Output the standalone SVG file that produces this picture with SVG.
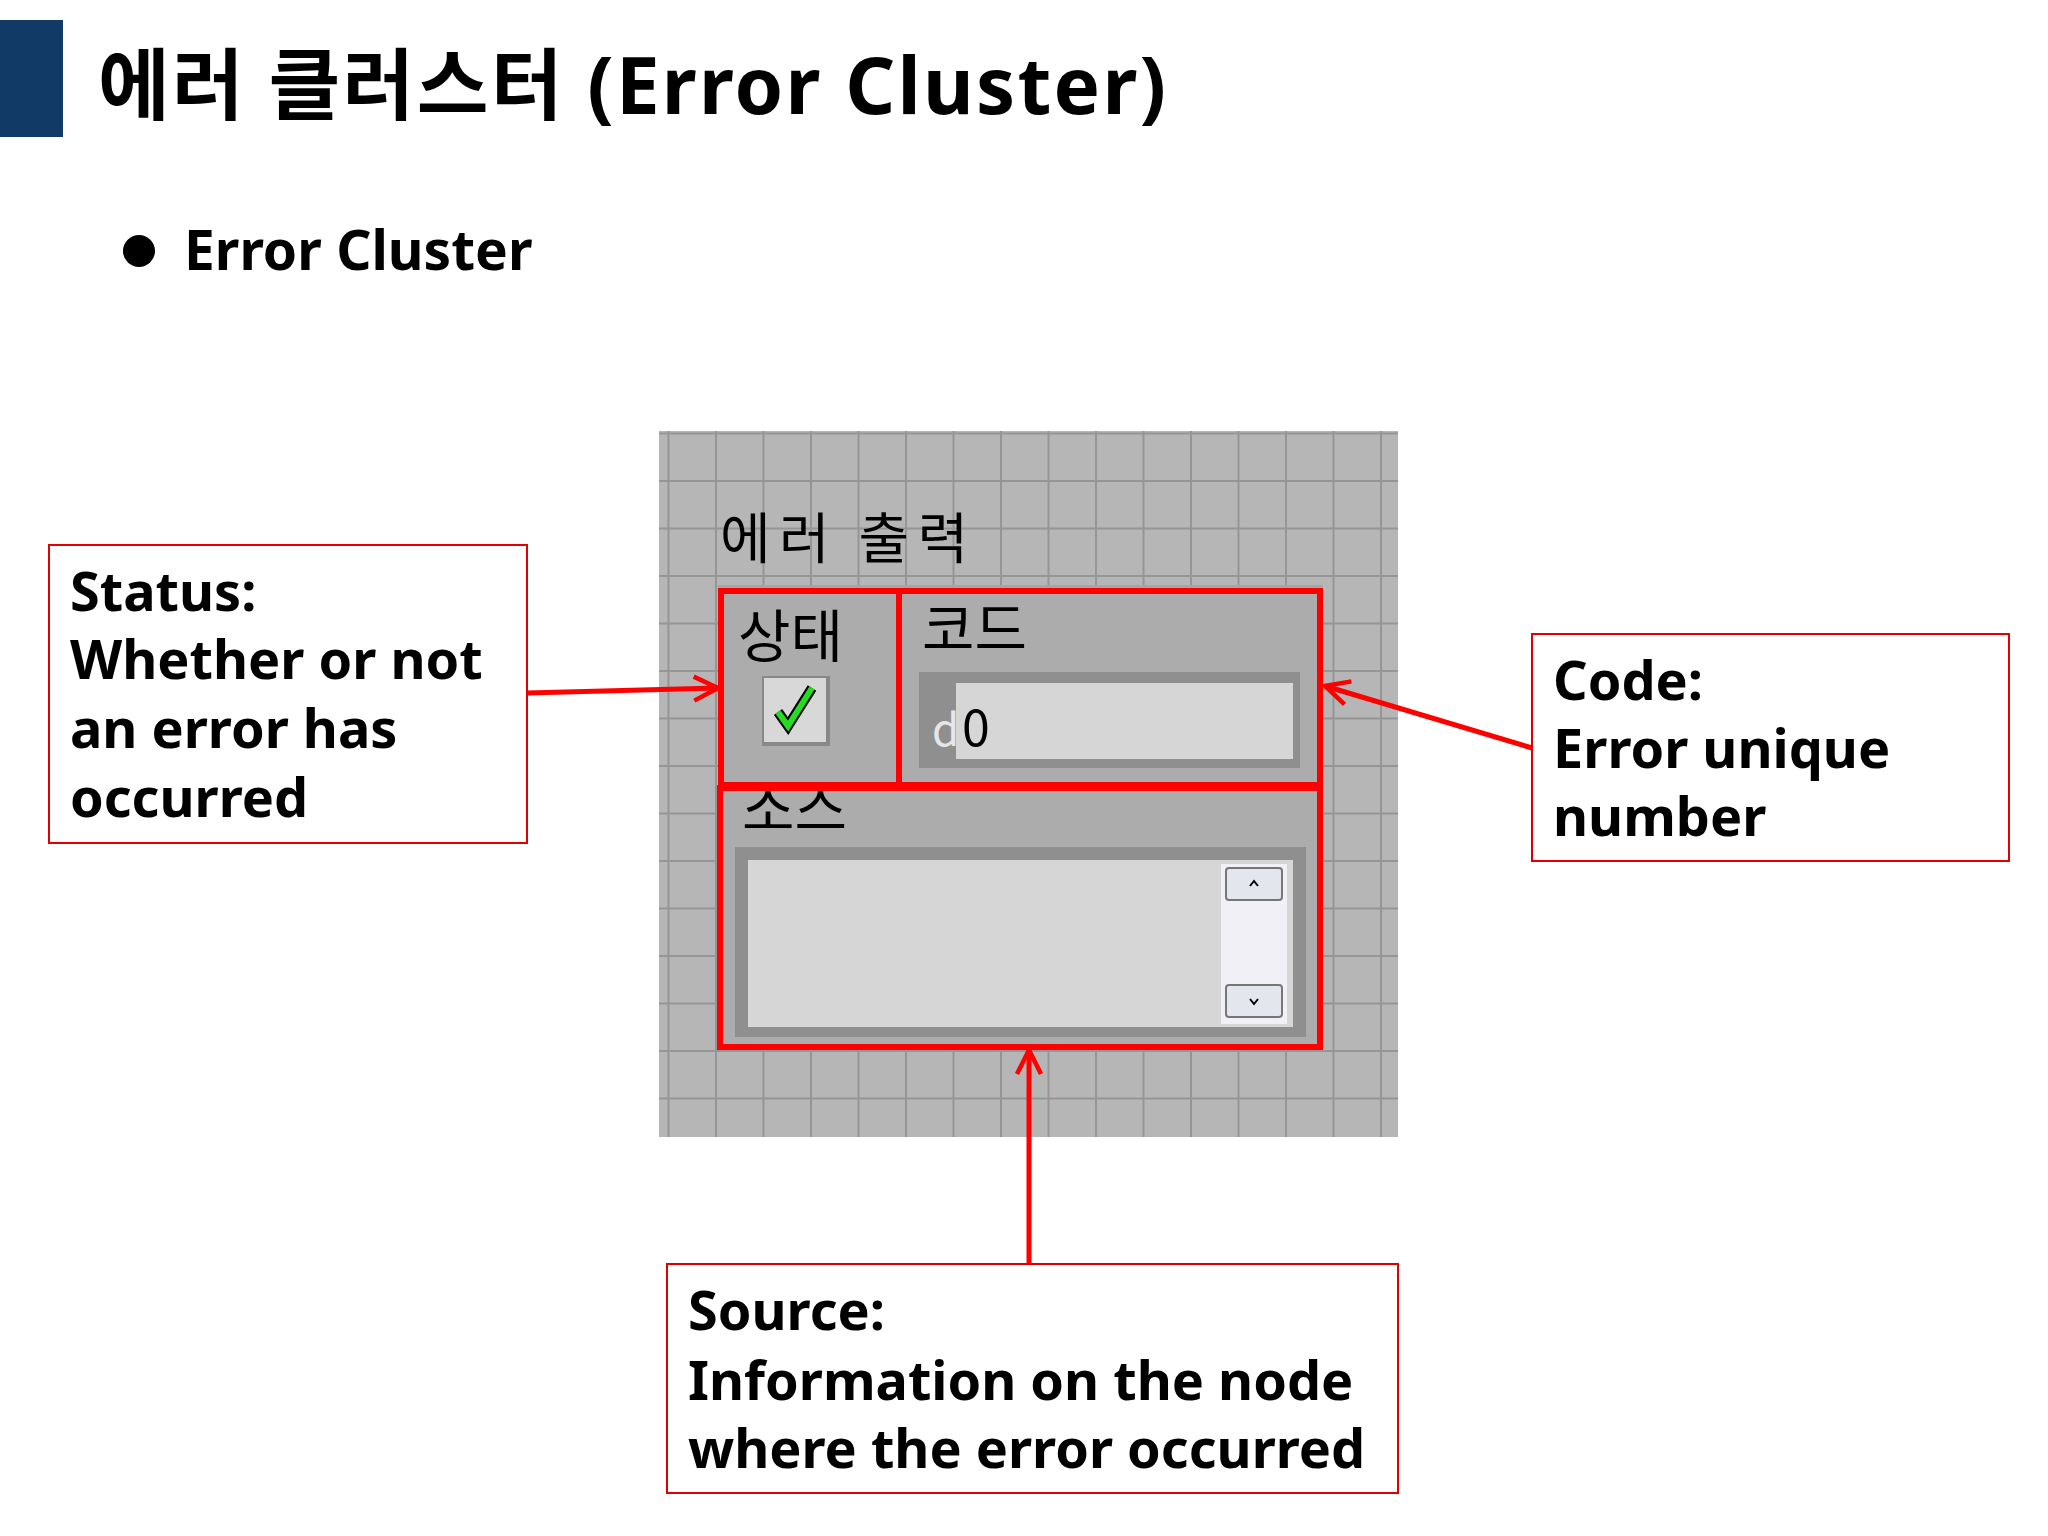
<svg xmlns="http://www.w3.org/2000/svg" width="2048" height="1536" viewBox="0 0 2048 1536">
<defs>
<style>
.t{font-family:"Noto Sans","Noto Sans CJK KR",sans-serif;font-weight:bold;fill:#000}
.k{font-family:"Noto Sans CJK KR","Noto Sans",sans-serif;font-weight:normal;fill:#000}
.box{fill:#fff;stroke:#e00000;stroke-width:2}
.red{fill:none;stroke:#ff0000;stroke-width:6}
.arr{stroke:#ff0000;stroke-width:5;fill:none}
</style>
<pattern id="grid" x="0" y="0" width="47.5" height="47.5" patternUnits="userSpaceOnUse" patternTransform="translate(715 480)">
<rect width="47.5" height="47.5" fill="#b6b6b6"/>
<path d="M0 0V47.5M0 0H47.5" stroke="#959595" stroke-width="4"/>
</pattern>
<marker id="ah" viewBox="0 0 20 20" refX="18" refY="10" markerWidth="6" markerHeight="6" markerUnits="strokeWidth" orient="auto">
<path d="M2 2L18 10L2 18" fill="none" stroke="#ff0000" stroke-width="3"/>
</marker>
</defs>
<rect width="2048" height="1536" fill="#fff"/>
<rect x="0" y="20" width="63" height="117" fill="#123a66"/>
<text class="t" x="98" y="114" font-size="78" textLength="1068" lengthAdjust="spacing">에러 클러스터 (Error Cluster)</text>
<circle cx="139" cy="251" r="16" fill="#000"/>
<text class="t" x="184" y="270" font-size="55">Error Cluster</text>

<g id="panel">
<rect x="659" y="431" width="739" height="706" fill="url(#grid)"/>
<text class="k" x="720" y="558" font-size="55" textLength="248" lengthAdjust="spacing">에러 출력</text>
<rect x="718" y="585" width="605" height="465" fill="#a6a6a6"/>
<rect x="724" y="594" width="172" height="188" fill="#acacac"/>
<rect x="902" y="594" width="415" height="188" fill="#acacac"/>
<rect x="724" y="791" width="593" height="253" fill="#acacac"/>
</g>
<g id="status-ctrl">
<text class="k" x="738" y="657" font-size="57">상태</text>
<rect x="762" y="676" width="68" height="70" fill="#888"/>
<rect x="764" y="678" width="62" height="64" fill="#d8d8d8"/>
<path d="M778 712L788 726L812 688" fill="none" stroke="#000" stroke-width="10"/>
<path d="M778 712L788 726L812 688" fill="none" stroke="#22dd22" stroke-width="6"/>
<rect class="red" x="721" y="591" width="178" height="194"/>
</g>
<g id="code-ctrl">
<text class="k" x="922" y="650" font-size="57">코드</text>
<rect x="919" y="672" width="381" height="96" fill="#8f8f8f"/>
<rect x="956" y="683" width="337" height="76" fill="#d6d6d6"/>
<text class="k" x="932" y="746" font-size="44" style="fill:#e6e6e6">d</text>
<text class="k" x="962" y="746" font-size="50">0</text>
<rect class="red" x="899" y="591" width="421" height="194"/>
</g>
<g id="source-ctrl">
<text class="k" x="742" y="830" font-size="57">소스</text>
<rect x="735" y="847" width="571" height="190" fill="#8f8f8f"/>
<rect x="748" y="860" width="545" height="167" fill="#d6d6d6"/>
<rect x="1221" y="864" width="66" height="160" fill="#f0f0f6"/>
<rect x="1226" y="868" width="56" height="32" rx="3" fill="#e4e6ee" stroke="#777" stroke-width="2"/>
<rect x="1226" y="985" width="56" height="32" rx="3" fill="#e4e6ee" stroke="#777" stroke-width="2"/>
<path d="M1250 886L1254 881L1258 886M1250 999L1254 1004L1258 999" fill="none" stroke="#000" stroke-width="2"/>
<rect class="red" x="720" y="788" width="600" height="259"/>
</g>

<g id="connectors">
<line class="arr" x1="527" y1="693" x2="718" y2="688" marker-end="url(#ah)"/>
<line class="arr" x1="1532" y1="748" x2="1325" y2="686" marker-end="url(#ah)"/>
<line class="arr" x1="1029" y1="1302" x2="1029" y2="1050" marker-end="url(#ah)"/>
</g>

<g id="status-note">
<rect class="box" x="49" y="545" width="478" height="298"/>
<text class="t" font-size="54"><tspan x="70" y="611">Status:</tspan><tspan x="70" y="679">Whether or not</tspan><tspan x="70" y="748">an error has</tspan><tspan x="70" y="817">occurred</tspan></text>
</g>
<g id="code-note">
<rect class="box" x="1532" y="634" width="477" height="227"/>
<text class="t" font-size="54"><tspan x="1553" y="700">Code:</tspan><tspan x="1553" y="768">Error unique</tspan><tspan x="1553" y="836">number</tspan></text>
</g>
<g id="source-note">
<rect class="box" x="667" y="1264" width="731" height="229"/>
<text class="t" font-size="54"><tspan x="688" y="1330">Source:</tspan><tspan x="688" y="1400">Information on the node</tspan><tspan x="688" y="1468">where the error occurred</tspan></text>
</g>
</svg>
